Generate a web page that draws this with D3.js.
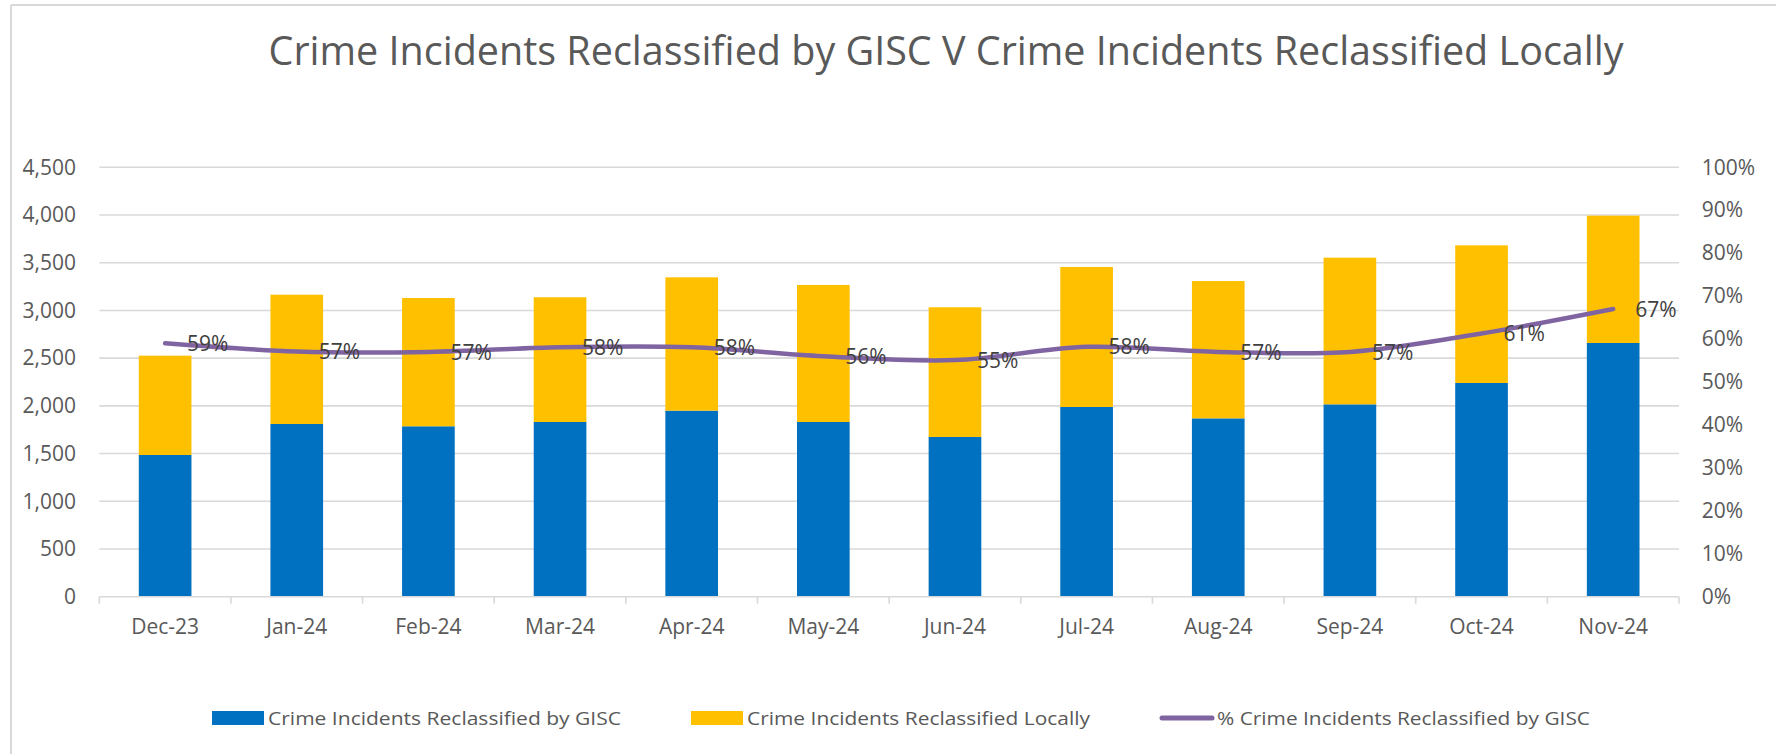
<!DOCTYPE html>
<html>
<head>
<meta charset="utf-8">
<script src="https://cdn.jsdelivr.net/npm/d3@7"></script>
<style>
  html, body { margin: 0; padding: 0; background: #fff; }
  svg { display: block; font-family: "Open Sans", "Liberation Sans", sans-serif; }
</style>
</head>
<body>
<svg id="chart" width="1776" height="754"></svg>
<script>
const months = ["Dec-23","Jan-24","Feb-24","Mar-24","Apr-24","May-24","Jun-24","Jul-24","Aug-24","Sep-24","Oct-24","Nov-24"];
const giscValues = [1485,1810,1786,1831,1950,1831,1674,1988,1869,2016,2240,2659];
const localValues = [1041,1355,1344,1307,1397,1436,1359,1467,1439,1537,1442,1334];
const pctValues = [0.590,0.571,0.570,0.581,0.581,0.560,0.551,0.582,0.570,0.570,0.613,0.670];
const leftTicks = [0,500,1000,1500,2000,2500,3000,3500,4000,4500];
const rightTicks = [0,0.1,0.2,0.3,0.4,0.5,0.6,0.7,0.8,0.9,1.0];
const seriesNames = ["Crime Incidents Reclassified by GISC","Crime Incidents Reclassified Locally","% Crime Incidents Reclassified by GISC"];
const titleText = "Crime Incidents Reclassified by GISC V Crime Incidents Reclassified Locally";

const svg = d3.select("#chart");
const W = 1776, H = 754;
const plot = {left: 99.3, right: 1679, top: 167.3, bottom: 596.7};
const textColor = "#595959";
const gridColor = "#d9d9d9";
const colors = {gisc: "#0070c0", local: "#ffc000", pct: "#8064a2"};

// outer frame (top and left visible)
svg.append("line").attr("x1", 11).attr("x2", W).attr("y1", 5).attr("y2", 5)
  .attr("stroke", gridColor).attr("stroke-width", 2);
svg.append("line").attr("x1", 11).attr("x2", 11).attr("y1", 5).attr("y2", H)
  .attr("stroke", gridColor).attr("stroke-width", 2);

// title
svg.append("text").attr("x", 946).attr("y", 65).attr("text-anchor", "middle")
  .attr("font-size", 40).attr("fill", textColor)
  .attr("textLength", 1355).attr("lengthAdjust", "spacingAndGlyphs")
  .text(titleText);

// scales
const xCat = d3.scaleBand().domain(months).range([plot.left, plot.right]).paddingInner(0).paddingOuter(0);
const xBar = d3.scaleBand().domain(months).range([plot.left, plot.right]).paddingInner(0.6).paddingOuter(0.3);
const yLeft = d3.scaleLinear().domain([0, 4500]).range([plot.bottom, plot.top]);
const yRight = d3.scaleLinear().domain([0, 1]).range([plot.bottom, plot.top]);

// gridlines
svg.append("g").selectAll("line").data(leftTicks.filter(d => d > 0)).join("line")
  .attr("x1", plot.left).attr("x2", plot.right)
  .attr("y1", d => yLeft(d)).attr("y2", d => yLeft(d))
  .attr("stroke", gridColor).attr("stroke-width", 1.6);

// left axis
const fmtNum = d3.format(",");
const leftAxis = d3.axisLeft(yLeft).tickValues(leftTicks).tickFormat(fmtNum).tickSize(0).tickPadding(0);
const gL = svg.append("g").attr("transform", `translate(76,0)`).call(leftAxis);
gL.select(".domain").remove();
gL.selectAll("text").attr("font-size", 21).attr("fill", textColor).attr("font-family", "Open Sans");

// right axis
const fmtPct = d3.format(".0%");
const rightAxis = d3.axisRight(yRight).tickValues(rightTicks).tickFormat(fmtPct).tickSize(0).tickPadding(0);
const gR = svg.append("g").attr("transform", `translate(1701.7,0)`).call(rightAxis);
gR.select(".domain").remove();
gR.selectAll("text").attr("font-size", 21).attr("fill", textColor).attr("font-family", "Open Sans");

// stacked bars
const stackData = months.map((m, i) => ({month: m, gisc: giscValues[i], local: localValues[i]}));
const stacked = d3.stack().keys(["gisc", "local"])(stackData);
svg.append("g").selectAll("g").data(stacked).join("g")
  .attr("fill", d => colors[d.key])
  .selectAll("rect").data(d => d).join("rect")
  .attr("x", d => xBar(d.data.month))
  .attr("width", xBar.bandwidth())
  .attr("y", d => yLeft(d[1]))
  .attr("height", d => yLeft(d[0]) - yLeft(d[1]));

// x axis baseline + ticks at category boundaries
svg.append("line").attr("x1", plot.left).attr("x2", plot.right)
  .attr("y1", plot.bottom).attr("y2", plot.bottom)
  .attr("stroke", gridColor).attr("stroke-width", 1.6);
const boundaries = months.map(m => xCat(m)).concat([plot.right]);
svg.append("g").selectAll("line").data(boundaries).join("line")
  .attr("x1", d => d).attr("x2", d => d)
  .attr("y1", plot.bottom).attr("y2", plot.bottom + 7)
  .attr("stroke", gridColor).attr("stroke-width", 1.6);

const bottomAxis = d3.axisBottom(xCat).tickSize(0).tickPadding(0);
const gB = svg.append("g").attr("transform", `translate(0,${plot.bottom})`).call(bottomAxis);
gB.select(".domain").remove();
gB.selectAll("text").attr("font-size", 21).attr("fill", textColor).attr("font-family", "Open Sans")
  .attr("dy", null).attr("y", 37);

// line
const cx = m => xCat(m) + xCat.bandwidth() / 2;
const line = d3.line().x((d, i) => cx(months[i])).y(d => yRight(d)).curve(d3.curveCatmullRom.alpha(0.5));
svg.append("path").datum(pctValues).attr("d", line)
  .attr("fill", "none").attr("stroke", colors.pct).attr("stroke-width", 4.5)
  .attr("stroke-linecap", "round").attr("stroke-linejoin", "round");

// data labels
svg.append("g").selectAll("text").data(pctValues).join("text")
  .attr("x", (d, i) => cx(months[i]) + 22)
  .attr("y", d => yRight(d))
  .attr("dy", "0.36em")
  .attr("font-size", 21).attr("fill", "#404040")
  .text(d => fmtPct(d));

// legend
const lg = svg.append("g");
lg.append("rect").attr("x", 212).attr("y", 711).attr("width", 52).attr("height", 14).attr("fill", colors.gisc);
lg.append("text").attr("x", 268).attr("y", 725).attr("font-size", 19).attr("fill", textColor)
  .attr("textLength", 353).attr("lengthAdjust", "spacingAndGlyphs").text(seriesNames[0]);
lg.append("rect").attr("x", 691).attr("y", 711).attr("width", 52).attr("height", 14).attr("fill", colors.local);
lg.append("text").attr("x", 747).attr("y", 725).attr("font-size", 19).attr("fill", textColor)
  .attr("textLength", 343).attr("lengthAdjust", "spacingAndGlyphs").text(seriesNames[1]);
lg.append("line").attr("x1", 1162).attr("x2", 1212).attr("y1", 718).attr("y2", 718)
  .attr("stroke", colors.pct).attr("stroke-width", 5).attr("stroke-linecap", "round");
lg.append("text").attr("x", 1217).attr("y", 725).attr("font-size", 19).attr("fill", textColor)
  .attr("textLength", 373).attr("lengthAdjust", "spacingAndGlyphs").text(seriesNames[2]);
</script>
</body>
</html>
